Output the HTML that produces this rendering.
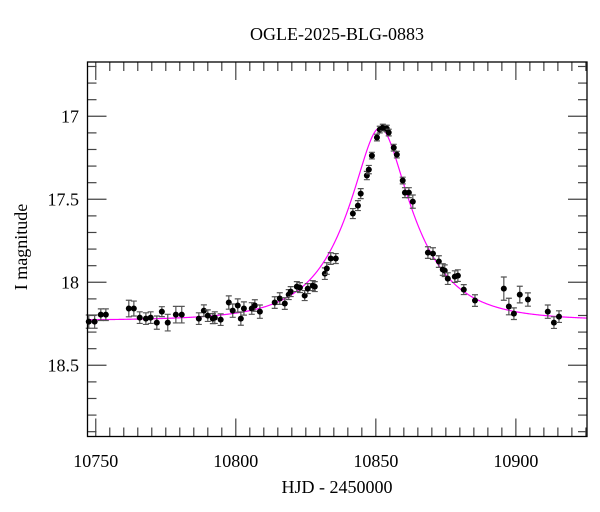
<!DOCTYPE html>
<html><head><meta charset="utf-8"><style>
html,body{margin:0;padding:0;background:#fff}
svg{display:block;font-family:"Liberation Serif","DejaVu Serif",serif}
</style></head><body>
<svg id="chart" width="600" height="512" viewBox="0 0 600 512" xmlns="http://www.w3.org/2000/svg">
<rect x="0" y="0" width="600" height="512" fill="#fff"/>
<text x="337" y="40" text-anchor="middle" font-size="18" fill="#000">OGLE-2025-BLG-0883</text>
<text x="337" y="493" text-anchor="middle" font-size="18" fill="#000">HJD - 2450000</text>
<text transform="translate(27,247) rotate(-90)" text-anchor="middle" font-size="18" fill="#000">I magnitude</text>
<g id="ticks"></g>
<g id="curve"></g>
<g id="pts"></g>
<rect x="87.5" y="62" width="499.5" height="374.5" fill="none" stroke="#000" stroke-width="1.3"/>
</svg>
<script>
const hjd=[10747.5,10749.6,10751.8,10753.6,10761.8,10763.6,10765.7,10767.9,10769.6,10771.8,10773.6,10775.7,10778.6,10780.7,10786.8,10788.6,10790,10791.8,10792.5,10794.6,10797.5,10798.9,10800.7,10801.8,10802.9,10805.7,10806.8,10808.6,10813.9,10815.7,10817.5,10818.9,10819.6,10821.8,10822.9,10824.6,10825.7,10827.5,10828.2,10831.8,10832.5,10833.9,10835.7,10841.8,10843.6,10844.6,10846.8,10847.5,10848.6,10850.4,10851.4,10852.5,10853.9,10854.6,10856.4,10857.5,10859.6,10860.4,10861.8,10863.2,10868.6,10870.4,10872.5,10873.9,10874.6,10875.7,10878.2,10879.3,10881.4,10885.4,10895.7,10897.5,10899.3,10901.4,10904.3,10911.4,10913.6,10915.4];
const mag=[18.237,18.237,18.195,18.195,18.158,18.158,18.213,18.219,18.213,18.243,18.177,18.243,18.195,18.195,18.219,18.171,18.201,18.219,18.213,18.225,18.122,18.171,18.140,18.219,18.158,18.158,18.140,18.177,18.122,18.098,18.128,18.074,18.056,18.026,18.032,18.080,18.038,18.020,18.026,17.948,17.917,17.857,17.857,17.586,17.538,17.466,17.357,17.321,17.237,17.128,17.080,17.068,17.074,17.098,17.189,17.231,17.387,17.460,17.460,17.514,17.821,17.827,17.875,17.923,17.930,17.978,17.966,17.960,18.044,18.110,18.038,18.146,18.189,18.074,18.104,18.177,18.243,18.207];
const err=[0.04,0.04,0.035,0.035,0.05,0.045,0.035,0.035,0.035,0.04,0.03,0.05,0.05,0.05,0.035,0.035,0.035,0.03,0.035,0.035,0.04,0.04,0.04,0.04,0.04,0.035,0.035,0.04,0.035,0.035,0.035,0.03,0.03,0.03,0.03,0.03,0.03,0.03,0.03,0.035,0.035,0.035,0.03,0.03,0.03,0.03,0.025,0.025,0.02,0.02,0.02,0.02,0.02,0.02,0.02,0.02,0.02,0.03,0.03,0.04,0.035,0.035,0.035,0.035,0.035,0.035,0.035,0.035,0.03,0.035,0.07,0.05,0.035,0.05,0.04,0.04,0.035,0.035];
const xTickLabels=[10750,10800,10850,10900];
const yTickLabels=[17,17.5,18,18.5];
const model={t0:10851.5,u0:0.36,tE:23,base:18.23};
const X0=87.5,X1=587,Y0=62,Y1=436.5;
const TMIN=10747.05,TMAX=10925.4,MMIN=16.673,MMAX=18.929;
const sx=t=>X0+(t-TMIN)/(TMAX-TMIN)*(X1-X0);
const sy=m=>Y0+(m-MMIN)/(MMAX-MMIN)*(Y1-Y0);
const NS='http://www.w3.org/2000/svg';
function mk(tag,attrs,parent){const e=document.createElementNS(NS,tag);for(const k in attrs)e.setAttribute(k,attrs[k]);parent.appendChild(e);return e;}
const tg=document.getElementById('ticks');
for(let t=10750;t<=TMAX;t+=5){
  const x=sx(t),maj=(t%50===0),L=maj?18:9;
  let l=mk('line',{x1:x,x2:x,y1:Y1,y2:Y1-L,stroke:'#444','stroke-width':1.2},tg);
  
  
  l=mk('line',{x1:x,x2:x,y1:Y0,y2:Y0+L,stroke:'#444','stroke-width':1.2},tg);
  
  
}
for(let i=0;i<=22;i++){
  const m=16.7+i*0.1;if(m>MMAX)break;
  const y=sy(m),maj=(i%5===3),L=maj?19:9;
  let l=mk('line',{x1:X0,x2:X0+L,y1:y,y2:y,stroke:'#444','stroke-width':1.2},tg);
  
  
  l=mk('line',{x1:X1,x2:X1-L,y1:y,y2:y,stroke:'#444','stroke-width':1.2},tg);
  
  
}
xTickLabels.forEach(v=>{
  const t=mk('text',{x:sx(v),y:467,'text-anchor':'middle','font-size':18},tg);t.textContent=String(v);
  
  
});
yTickLabels.forEach(v=>{
  const t=mk('text',{x:79,y:sy(v)+6,'text-anchor':'end','font-size':18},tg);t.textContent=String(v);
  
  
});
function modelMag(t){const tau=(t-model.t0)/model.tE;const u=Math.sqrt(model.u0*model.u0+tau*tau);const A=(u*u+2)/(u*Math.sqrt(u*u+4));return model.base-2.5*Math.log10(A);}
let d='';for(let t=TMIN;t<=TMAX;t+=0.25){d+=(d?'L':'M')+sx(t).toFixed(2)+','+sy(modelMag(t)).toFixed(2);}
const cp=mk('path',{d:d,fill:'none',stroke:'#ff00ff','stroke-width':1.2},document.getElementById('curve'));


const pg=document.getElementById('pts');
hjd.forEach((t,i)=>{
  const x=sx(t),y=sy(mag[i]),ya=sy(mag[i]-err[i]),yb=sy(mag[i]+err[i]);
  const g=mk('g',{},pg);
  
  
  mk('path',{d:`M${x},${ya}L${x},${yb}M${x-3},${ya}L${x+3},${ya}M${x-3},${yb}L${x+3},${yb}`,stroke:'#555','stroke-width':1.2,fill:'none'},g);
  mk('circle',{cx:x,cy:y,r:3,fill:'#000'},g);
});
</script>
</body></html>
